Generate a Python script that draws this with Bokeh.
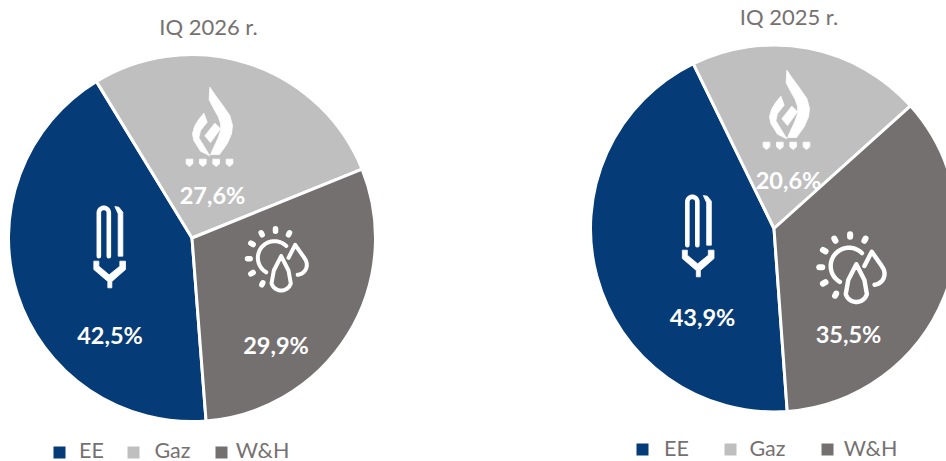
import math
from bokeh.plotting import figure
from bokeh.models import Range1d, ColumnDataSource
from bokeh.core.properties import value
from bokeh.embed import file_html
from bokeh.resources import INLINE

categories = ["EE", "Gaz", "W&H"]
colors = ["#053B76", "#BFBFBF", "#747070"]
values_2026 = [42.5, 27.6, 29.9]
values_2025 = [43.9, 20.6, 35.5]
title_2026 = "IQ 2026 r."
title_2025 = "IQ 2025 r."

W, H = 946, 461
FONT = "Lato"
WHITE = "#FFFFFF"
GREY = "#767171"

p = figure(width=W, height=H, output_backend="svg", toolbar_location=None,
           x_range=Range1d(0, W), y_range=Range1d(0, H),
           x_axis_location=None, y_axis_location=None, min_border=0,
           outline_line_color=None, background_fill_color=None, border_fill_color=None)
p.grid.visible = False


def X(px):
    return px


def Y(py):
    return H - py


def pie(vals, cx, cy, r, ee_start_clock):
    # ee_start_clock: clockwise angle from 12 o'clock where the EE slice begins
    a = ee_start_clock
    starts, ends = [], []
    for v in vals:
        b = a + v * 3.6
        starts.append(math.radians(90 - b))
        ends.append(math.radians(90 - a))
        a = b
    src = ColumnDataSource(dict(x=[X(cx)] * 3, y=[Y(cy)] * 3, s=starts, e=ends, c=colors))
    p.wedge(x="x", y="y", radius=r, start_angle="s", end_angle="e", fill_color="c",
            line_color=WHITE, line_width=3, source=src)


def label(x, y, txt, size, color, bold=False):
    p.text([X(x)], [Y(y)], text=[txt], text_font=value(FONT), text_font_size=f"{size}px",
           text_font_style="bold" if bold else "normal", text_color=color,
           text_align="center", text_baseline="middle")


def fmt(v):
    return f"{v:.1f}%".replace(".", ",")


def poly(pts, ox, oy, s):
    p.patch([X(ox + q[0] * s / 3) for q in pts], [Y(oy + q[1] * s / 3) for q in pts],
            fill_color=WHITE, line_color=WHITE, line_width=0.8)


def stroke(pts, ox, oy, s, w):
    p.line([X(ox + q[0] * s / 3) for q in pts], [Y(oy + q[1] * s / 3) for q in pts],
           line_color=WHITE, line_width=w, line_cap="round", line_join="round")


def arc(cx, cy, r, a0, a1, n=24):
    return [(cx + r * math.cos(math.radians(a0 + (a1 - a0) * i / n)),
             cy - r * math.sin(math.radians(a0 + (a1 - a0) * i / n))) for i in range(n + 1)]


def flame(ox, oy, s=1.0):
    poly([(88, 20), (86, 58), (100, 85), (113, 108), (120, 128), (121, 148), (113, 172), (90, 222), (117, 222),
          (140, 190), (153, 160), (156, 135), (148, 105), (125, 72), (105, 45)], ox, oy, s)
    poly([(70, 98), (80, 125), (60, 150), (55, 172), (88, 226), (60, 212), (40, 180), (36, 160), (42, 138), (54, 118)],
         ox, oy, s)
    poly([(103, 128), (120, 145), (90, 186), (73, 166)], ox, oy, s)
    for x in (27, 67, 107, 147):
        poly([(x - 10, 236), (x + 10, 236), (x + 10, 250), (x, 258), (x - 10, 250)], ox, oy, s)


def bulb(ox, oy, s=1.0):
    stroke([(55, 182)] + arc(70, 52, 15, 180, 0) + [(85, 182)], ox, oy, s, 4.6)
    poly([(103, 33), (115, 35), (127, 50), (127, 182), (113, 182), (113, 55)], ox, oy, s)
    poly([(40, 197), (55, 197), (55, 212), (86, 238), (118, 212), (118, 197), (135, 197), (135, 222),
          (94, 258), (94, 277), (82, 277), (82, 258), (40, 222)], ox, oy, s)


def sun(ox, oy, s=1.0):
    w = 4.0 * s
    stroke(arc(105, 97, 50, 45, 240), ox, oy, s, w)
    for x0, y0, x1, y1 in [(108, 10, 108, 17), (65, 22, 68, 28), (150, 22, 147, 28), (34, 53, 41, 57),
                           (24, 100, 32, 100), (34, 145, 41, 141), (67, 178, 70, 172)]:
        stroke([(x0, y0), (x1, y1)], ox, oy, s, 5.5 * s)
    stroke([(125, 92), (103, 135)] + arc(125, 165, 30, 196, 344) + [(147, 135), (125, 92)], ox, oy, s, w)
    stroke([(147, 97), (167, 58), (193, 95)] + arc(172, 118, 30, 35, -85, 12), ox, oy, s, w)


# ---- pies
pie(values_2026, 191.5, 237.5, 183.5, -31.4 + 360 - 153)
pie(values_2025, 773.5, 228, 183.5, -26.1 + 360 - 158.04)

# ---- icons
flame(180, 80)
bulb(80, 195)
sun(239, 225)
flame(757, 63)
bulb(668.5, 184)
sun(810, 230, 1.1)

# ---- labels
label(208, 25.5, title_2026, 22, GREY)
label(788.5, 16, title_2025, 22, GREY)
for (x, y), v in zip([(109.5, 334.5), (212, 194.5), (275.5, 344.5)], values_2026):
    label(x, y, fmt(v), 23.5, WHITE, True)
for (x, y), v in zip([(702, 316.5), (788, 179.5), (848, 333.5)], values_2025):
    label(x, y, fmt(v), 23.5, WHITE, True)

# ---- legends
for squares, texts, ly, sy in [((59, 133, 221), (91, 172, 262), 449, 452), ((642, 730, 827), (676, 767, 870), 447, 449)]:
    for c, sx, tx, name in zip(colors, squares, texts, categories):
        p.scatter([X(sx)], [Y(sy)], size=12, marker="square", fill_color=c, line_color=None)
        label(tx, ly, name, 21.5, GREY)

open("out.html", "w").write(file_html(p, INLINE))
